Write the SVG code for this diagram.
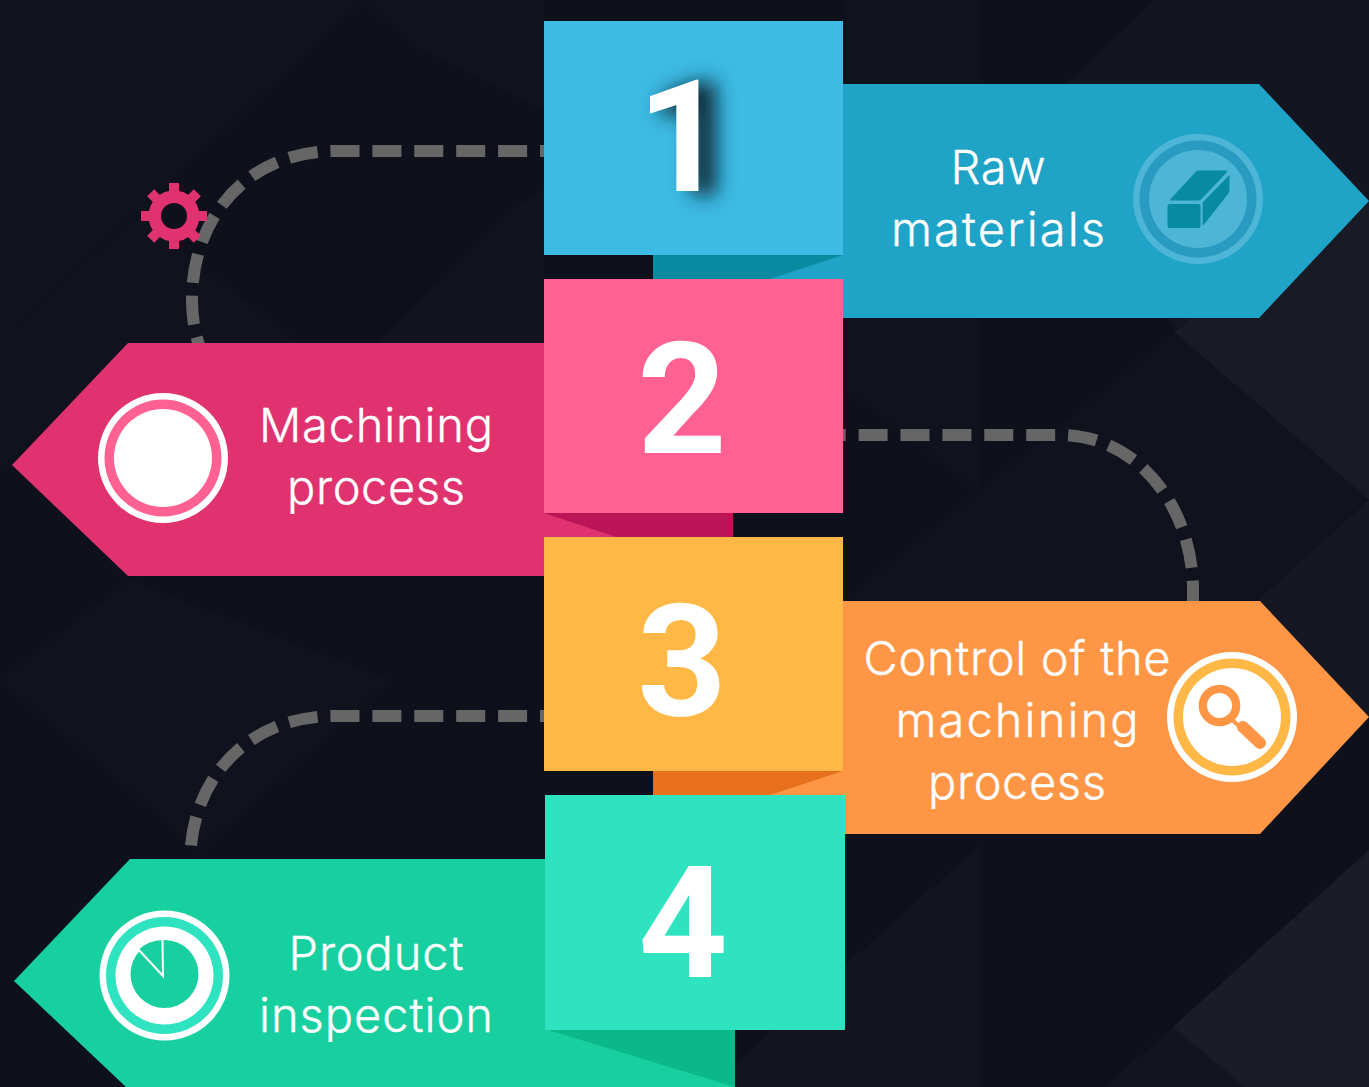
<svg xmlns="http://www.w3.org/2000/svg" width="1369" height="1087" viewBox="0 0 1369 1087">
<style>
.lbl{font-family:"Inter","Liberation Sans",sans-serif;font-weight:300;font-size:47px;fill:#fff;stroke:#fff;stroke-width:.35;text-anchor:middle}
.num{font-family:"Roboto","Liberation Sans",sans-serif;font-weight:700;font-size:156px;fill:#fff;text-anchor:middle}
.dash{fill:none;stroke:#666;stroke-width:12;stroke-dasharray:29 12.9}
.bg{fill:#fff}
</style>
<defs><filter id="blur" x="-80%" y="-40%" width="260%" height="180%"><feGaussianBlur stdDeviation="10"/></filter></defs>
<rect width="1369" height="1087" fill="#0e111c"/>
<g id="background">
<polygon class="bg" opacity=".025" points="1155,0 1369,0 1369,500 1175,333 1060,90"/>
<polygon class="bg" opacity=".025" points="1175,333 1300,210 1369,201 1369,500"/>
<polygon class="bg" opacity=".012" points="845,600 1175,333 1369,500 1258,600"/>
<polygon class="bg" opacity=".03" points="1369,500 1258,600 1369,717"/>
<polygon class="bg" opacity=".05" points="1369,850 1173,1027 1245,1087 1369,1087"/>
<polygon class="bg" opacity=".018" points="1173,1027 1105,1087 1245,1087"/>
<polygon class="bg" opacity=".018" points="980,845 845,965 735,1065 735,1087 980,1087"/>
<polygon class="bg" opacity=".012" points="845,0 980,0 980,492 845,387"/>
<polygon class="bg" opacity=".012" points="0,0 363,0 0,340"/>
<polygon class="bg" opacity=".01" points="363,0 544,0 544,110 420,50"/>
<polygon class="bg" opacity=".015" points="522,203 544,190 544,343 377,343"/>
<polygon class="bg" opacity=".012" points="0,340 135,215 300,343 128,343 60,415 0,470"/>
<polygon class="bg" opacity=".01" points="0,680 130,580 390,680 200,850"/>
</g>
<g id="connectors">
<path class="dash" stroke-dashoffset="25" d="M544 151H335C250 151 192 215 192 300C192 315 194 330 199 345"/>
<path class="dash" stroke-dashoffset="26.300" d="M843 435H1060C1140 435 1193 510 1193 590V602"/>
<path class="dash" stroke-dashoffset="25" d="M544 716H335C250 716 197 775 191 846"/>
</g>
<g id="gear">
<g fill="#e0326f">
<rect x="169" y="183" width="10" height="66"/>
<rect x="141" y="211" width="66" height="10"/>
<rect x="169" y="183" width="10" height="66" transform="rotate(45 174 216)"/>
<rect x="141" y="211" width="66" height="10" transform="rotate(45 174 216)"/>
</g>
<circle cx="174" cy="216" r="19" fill="none" stroke="#e0326f" stroke-width="13"/>
<circle cx="174" cy="216" r="13" fill="#0e111c"/>
</g>
<g id="node-1">
<polygon points="653,84 1259,84 1369,201 1259,318 653,318" fill="#1fa3c6"/>
<polygon points="653,255 843,255 770,279 653,279" fill="#088aa0"/>
<rect x="544" y="21" width="299" height="234" fill="#3dbbe5"/>
<polygon points="662,96 695,82 716,82 716,195 691,195 691,110 662,118" fill="#0a2a38" filter="url(#blur)"/>
<text class="num" x="682" y="191">1</text>
<text class="lbl" x="998" y="184" textLength="95" lengthAdjust="spacing">Raw</text>
<text class="lbl" x="998" y="246" textLength="214" lengthAdjust="spacing">materials</text>
<circle cx="1198" cy="199" r="65" fill="#4db5d6"/>
<circle cx="1198" cy="199" r="58.5" fill="#2a9bc0"/>
<circle cx="1198" cy="199" r="49" fill="#4db5d6"/>
<path d="M1169.300 200.500L1196 171.500Q1197 170.500 1199 170.500H1226Q1228 170.500 1227 172L1201 199.500Q1200 200.500 1198 200.500Z" fill="#088aa0"/>
<path d="M1229.500 175V190Q1229.500 192 1228 194L1204 224.500Q1202.700 226 1202.700 224V203Q1202.700 202 1204 201Z" fill="#088aa0"/>
<rect x="1167.500" y="204" width="33" height="24" rx="2" fill="#088aa0"/>
</g>
<g id="node-2">
<polygon points="733,343 128,343 12,465 128,576 733,576" fill="#e0326f"/>
<polygon points="544,513 733,513 733,537 616,537" fill="#bc1557"/>
<rect x="544" y="279" width="299" height="234" fill="#ff6192"/>
<text class="num" x="682" y="453">2</text>
<text class="lbl" x="376" y="442" textLength="234" lengthAdjust="spacing">Machining</text>
<text class="lbl" x="376" y="504" textLength="178" lengthAdjust="spacing">process</text>
<circle cx="163" cy="458" r="65" fill="#fff"/>
<circle cx="163" cy="458" r="58.5" fill="#ff6192"/>
<circle cx="163" cy="458" r="49" fill="#fff"/>
</g>
<g id="node-3">
<polygon points="653,601 1260,601 1369,717 1260,834 653,834" fill="#ff9646"/>
<polygon points="653,771 843,771 770,795 653,795" fill="#e8701c"/>
<rect x="544" y="537" width="299" height="234" fill="#ffb846"/>
<text class="num" x="682" y="715">3</text>
<text class="lbl" x="1017" y="675" textLength="307" lengthAdjust="spacing">Control of the</text>
<text class="lbl" x="1017" y="737" textLength="243" lengthAdjust="spacing">machining</text>
<text class="lbl" x="1017" y="799" textLength="178" lengthAdjust="spacing">process</text>
<circle cx="1232" cy="717" r="65" fill="#fff"/>
<circle cx="1232" cy="717" r="58.5" fill="#ffb846"/>
<circle cx="1232" cy="717" r="49" fill="#fff"/>
<circle cx="1219.5" cy="705.5" r="16.7" fill="none" stroke="#ff9646" stroke-width="8.3"/>
<line x1="1230" y1="718" x2="1240" y2="727" stroke="#ff9646" stroke-width="4"/>
<line x1="1243" y1="727" x2="1260" y2="743" stroke="#ff9646" stroke-width="12" stroke-linecap="round"/>
</g>
<g id="node-4">
<polygon points="735,859 130,859 14,981 126,1087 735,1087" fill="#18cf9f"/>
<polygon points="545,1029 735,1029 735,1087" fill="#0bb888"/>
<rect x="545" y="795" width="300" height="235" fill="#2fe3c1"/>
<text class="num" x="683" y="977">4</text>
<text class="lbl" x="376" y="970" textLength="175" lengthAdjust="spacing">Product</text>
<text class="lbl" x="376" y="1032" textLength="234" lengthAdjust="spacing">inspection</text>
<circle cx="164.500" cy="975.500" r="65" fill="#fff"/>
<circle cx="164.500" cy="975.500" r="58.500" fill="#2fe3c1"/>
<circle cx="164.500" cy="975.500" r="49" fill="#fff"/>
<circle cx="164.500" cy="974" r="34" fill="#18cf9f"/>
<path d="M163 976L138 949A36 36 0 0 1 162.500 939Z" fill="#18cf9f" stroke="#fff" stroke-width="2"/>
</g>
</svg>
